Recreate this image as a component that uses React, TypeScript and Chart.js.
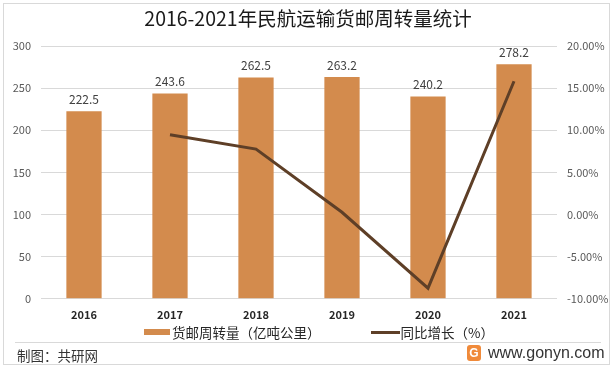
import React, { useEffect, useRef } from "react";
import { Chart, registerables } from "chart.js";

Chart.register(...registerables);

const years = ["2016", "2017", "2018", "2019", "2020", "2021"];
const volume = [222.5, 243.6, 262.5, 263.2, 240.2, 278.2];
const growth = [null, 9.48, 7.76, 0.27, -8.74, 15.82];
const barLabel = "货邮周转量（亿吨公里）";
const lineLabel = "同比增长（%）";
const title = "2016-2021年民航运输货邮周转量统计";

const BAR = "#D38B4D";
const LINE = "#5E3F27";
const FONT = "'Microsoft YaHei','Noto Sans CJK SC','DejaVu Sans',sans-serif";

export default function App() {
  const ref = useRef<HTMLCanvasElement>(null);
  useEffect(() => {
    const labelsPlugin = {
      id: "barLabels",
      afterDatasetsDraw(chart: any) {
        const ctx = chart.ctx;
        const meta = chart.getDatasetMeta(0);
        ctx.save();
        ctx.font = `12px ${FONT}`;
        ctx.fillStyle = "#404040";
        ctx.textAlign = "center";
        ctx.textBaseline = "bottom";
        meta.data.forEach((el: any, i: number) => {
          ctx.fillText(volume[i].toFixed(1), el.x, el.y - 6);
        });
        ctx.restore();
      },
    };
    const chart = new Chart(ref.current!, {
      type: "bar",
      data: {
        labels: years,
        datasets: [
          {
            type: "bar",
            label: barLabel,
            data: volume,
            backgroundColor: BAR,
            yAxisID: "y",
            categoryPercentage: 1,
            barPercentage: 0.41,
            order: 2,
          },
          {
            type: "line",
            label: lineLabel,
            data: growth as any,
            borderColor: LINE,
            backgroundColor: LINE,
            borderWidth: 3,
            pointRadius: 0,
            tension: 0,
            yAxisID: "y1",
            order: 1,
          },
        ],
      },
      options: {
        animation: false,
        responsive: false,
        layout: { padding: { top: 46, bottom: 41, left: 0, right: 0 } },
        plugins: {
          legend: { display: false },
          title: { display: false },
          tooltip: { enabled: false },
        },
        scales: {
          x: {
            grid: { display: false, drawTicks: false },
            border: { display: false },
            ticks: {
              color: "#262626",
              font: { size: 11, weight: "bold", family: FONT },
              padding: 9,
            },
          },
          y: {
            position: "left",
            min: 0,
            max: 300,
            afterFit: (s: any) => { s.width = 41; },
            ticks: {
              stepSize: 50,
              color: "#595959",
              font: { size: 11, family: FONT },
              padding: 10,
            },
            grid: { color: "#D9D9D9", drawTicks: false },
            border: { display: false },
          },
          y1: {
            position: "right",
            min: -10,
            max: 20,
            afterFit: (s: any) => { s.width = 59; },
            ticks: {
              stepSize: 5,
              color: "#595959",
              font: { size: 11, family: FONT },
              padding: 10,
              callback: (v: any) => Number(v).toFixed(2) + "%",
            },
            grid: { display: false, drawTicks: false },
            border: { display: false },
          },
        },
      },
      plugins: [labelsPlugin],
    });
    return () => chart.destroy();
  }, []);

  return (
    <div style={{ position: "fixed", left: 0, top: 0, width: 616, height: 371, background: "#fff", fontFamily: FONT }}>
      <div style={{ position: "absolute", left: 3, top: 3, width: 607, height: 362, border: "1px solid #D9D9D9", boxSizing: "border-box" }} />
      <canvas ref={ref} width={616} height={371} style={{ position: "absolute", left: 0, top: 0 }} />
      <div style={{ position: "absolute", left: 0, width: 616, top: 3, textAlign: "center", fontSize: 19.5, color: "#1a1a1a" }}>{title}</div>
      <div style={{ position: "absolute", top: 322, left: 144, display: "flex", alignItems: "center", fontSize: 13.5, color: "#262626" }}>
        <span style={{ display: "inline-block", width: 26, height: 6, background: BAR, marginRight: 2 }} />
        <span>{barLabel}</span>
        <span style={{ display: "inline-block", width: 29, height: 3, background: LINE, marginLeft: 50, marginRight: 1 }} />
        <span>{lineLabel}</span>
      </div>
      <div style={{ position: "absolute", left: 15, top: 342, width: 586, height: 1, background: "#D9D9D9" }} />
      <div style={{ position: "absolute", left: 17, top: 345, fontSize: 13.5, color: "#333" }}>制图：共研网</div>
      <div style={{ position: "absolute", left: 467, top: 344, display: "flex", alignItems: "center" }}>
        <span style={{ display: "inline-block", width: 14, height: 16, background: "#F08A3A", borderRadius: 3, color: "#fff", fontSize: 12, lineHeight: "16px", textAlign: "center", fontWeight: "bold", fontFamily: "Arial, sans-serif" }}>G</span>
        <span style={{ marginLeft: 7, fontSize: 16, color: "#333", fontFamily: "'Liberation Sans', Arial, sans-serif" }}>www.gonyn.com</span>
      </div>
    </div>
  );
}
